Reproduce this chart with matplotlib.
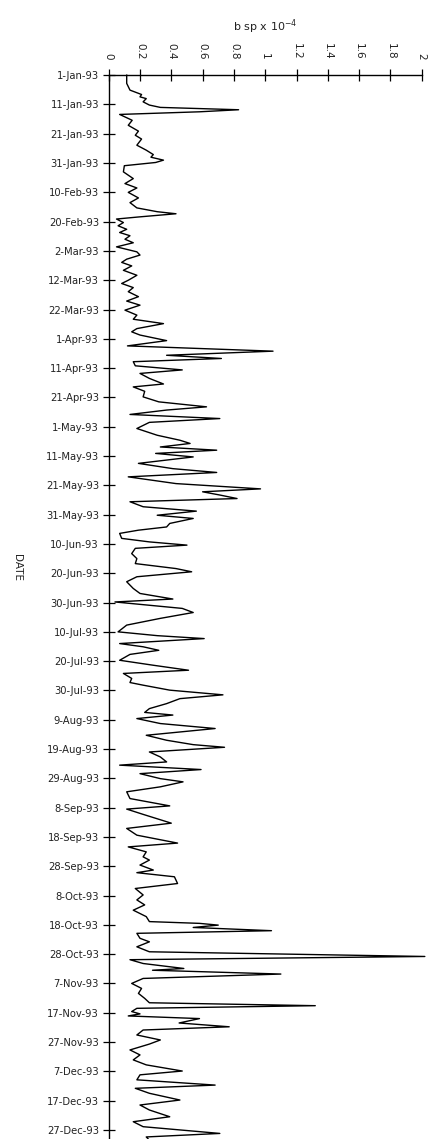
import matplotlib
matplotlib.use('Agg')
import matplotlib.pyplot as plt
import pandas as pd

days = [0, 2.8, 5.1, 6.6, 7.4, 8.0, 9.1, 10.2, 11.0, 11.8, 12.5, 13.4, 15.4, 17.1, 19.1,
        20.5, 21.8, 23.9, 25.6, 27.1, 28.0, 29.0, 29.8, 30.9, 33.0, 35.3, 37.0, 38.5,
        40.0, 41.9, 43.5, 45.3, 46.6, 47.3, 48.4, 49.1, 50.3, 51.4, 52.6, 53.7, 54.8,
        56.0, 57.2, 58.6, 60.3, 61.4, 62.8, 63.9, 65.1, 66.6, 68.3, 70.0, 71.1, 72.5,
        73.9, 75.6, 77.1, 78.5, 80.2, 81.9, 83.3, 84.8, 86.5, 87.6, 88.7, 90.6, 92.4,
        94.2, 95.6, 96.7, 97.8, 99.2, 100.6, 101.8, 103.5, 105.4, 106.4, 107.9, 109.8,
        111.5, 113.2, 114.3, 115.8, 117.2, 118.5, 120.6, 122.9, 124.6, 125.7, 126.9,
        128.0, 129.1, 130.3, 132.5, 134.3, 135.6, 137.1, 139.4, 141.2, 142.2, 143.3,
        144.5, 145.6, 147.3, 148.8, 150.2, 151.3, 153.0, 154.2, 155.3, 156.4, 158.1,
        159.3, 160.4, 161.5, 163.3, 165.0, 166.7, 168.4, 169.5, 171.2, 172.9, 175.2,
        176.9, 178.8, 179.8, 182.0, 183.4, 185.4, 187.7, 190.0, 191.3, 192.3, 194.0,
        195.1, 196.3, 197.7, 199.7, 201.4, 203.1, 204.2, 205.9, 207.3, 208.2, 209.9,
        211.5, 212.8, 214.5, 216.2, 217.5, 218.4, 219.6, 221.3, 223.0, 225.3, 227.0,
        228.5, 229.4, 231.0, 232.7, 234.4, 235.5, 237.0, 238.4, 240.1, 241.2, 242.9,
        244.6, 246.9, 249.4, 250.5, 252.3, 255.3, 257.1, 259.4, 262.1, 263.4, 265.1,
        266.8, 267.9, 269.6, 271.3, 272.2, 273.6, 275.9, 277.6, 279.8, 281.5, 283.2,
        285.0, 287.2, 288.9, 289.5, 290.1, 290.9, 292.0, 292.9, 294.6, 295.8, 297.5,
        299.2, 300.8, 301.9, 303.2, 304.9, 305.5, 306.8, 308.3, 310.0, 311.7, 313.4,
        315.1, 316.6, 317.6, 318.5, 319.6, 320.4, 321.1, 322.0, 323.5, 324.8, 325.9,
        327.6, 329.3, 330.7, 332.7, 334.4, 336.1, 337.8, 339.9, 341.2, 342.9, 344.7,
        345.8, 347.5, 349.8, 351.5, 353.2, 355.5, 357.2, 358.9, 361.2, 362.4, 363.5]

bsp = [0.115, 0.115, 0.136, 0.21, 0.20, 0.24, 0.22, 0.26, 0.33, 0.83, 0.58, 0.07, 0.15,
       0.125, 0.19, 0.17, 0.21, 0.18, 0.24, 0.285, 0.27, 0.35, 0.30, 0.10, 0.094, 0.157,
       0.104, 0.18, 0.125, 0.19, 0.136, 0.18, 0.31, 0.43, 0.19, 0.05, 0.094, 0.06, 0.115,
       0.07, 0.136, 0.104, 0.157, 0.05, 0.18, 0.20, 0.115, 0.083, 0.147, 0.094, 0.18,
       0.125, 0.083, 0.157, 0.125, 0.19, 0.115, 0.20, 0.104, 0.18, 0.157, 0.35, 0.18,
       0.147, 0.20, 0.37, 0.12, 1.05, 0.37, 0.72, 0.157, 0.17, 0.47, 0.20, 0.26, 0.35,
       0.157, 0.23, 0.22, 0.32, 0.625, 0.37, 0.136, 0.71, 0.26, 0.18, 0.31, 0.455, 0.52,
       0.33, 0.69, 0.30, 0.54, 0.19, 0.41, 0.69, 0.125, 0.43, 0.97, 0.60, 0.71, 0.82,
       0.136, 0.22, 0.56, 0.31, 0.54, 0.39, 0.37, 0.19, 0.07, 0.083, 0.26, 0.50, 0.17,
       0.147, 0.18, 0.17, 0.43, 0.53, 0.18, 0.115, 0.157, 0.20, 0.41, 0.04, 0.47, 0.54,
       0.33, 0.115, 0.06, 0.31, 0.61, 0.07, 0.22, 0.32, 0.136, 0.07, 0.285, 0.51, 0.094,
       0.147, 0.136, 0.22, 0.39, 0.73, 0.455, 0.37, 0.26, 0.23, 0.41, 0.18, 0.33, 0.68,
       0.24, 0.37, 0.54, 0.74, 0.26, 0.33, 0.37, 0.07, 0.59, 0.20, 0.33, 0.475, 0.33,
       0.115, 0.136, 0.39, 0.115, 0.22, 0.40, 0.115, 0.18, 0.44, 0.125, 0.24, 0.22, 0.26,
       0.20, 0.285, 0.18, 0.42, 0.44, 0.17, 0.22, 0.18, 0.23, 0.157, 0.24, 0.26, 0.58,
       0.70, 0.54, 1.04, 0.18, 0.20, 0.26, 0.18, 0.26, 2.02, 0.136, 0.22, 0.48, 0.28,
       1.10, 0.22, 0.147, 0.21, 0.19, 0.23, 0.26, 1.32, 0.18, 0.147, 0.20, 0.125, 0.58,
       0.45, 0.77, 0.22, 0.18, 0.33, 0.26, 0.136, 0.20, 0.157, 0.24, 0.47, 0.20, 0.18,
       0.68, 0.17, 0.26, 0.455, 0.20, 0.26, 0.39, 0.157, 0.22, 0.71, 0.24, 0.26]

# tick marks every 10 days from 1-Jan-93
tick_days = list(range(0, 361, 10))
tick_dates = pd.date_range('1993-01-01', periods=len(tick_days), freq='10D')
tick_labels = [f"{d.day}-{d.strftime('%b-%y')}" for d in tick_dates]
x_ticks = [0, 0.2, 0.4, 0.6, 0.8, 1, 1.2, 1.4, 1.6, 1.8, 2]
x_tick_labels = ['0', '0.2', '0.4', '0.6', '0.8', '1', '1.2', '1.4', '1.6', '1.8', '2']

plt.rcParams['font.family'] = ['DejaVu Sans']

fig = plt.figure(figsize=(4.39, 11.39), dpi=100)
ax = fig.add_axes([0.2476, 0.0, 0.7130, 0.934])

ax.plot(bsp, days, color='black', lw=1.0, clip_on=False)

ax.set_xlim(0, 2)
ax.set_ylim(363.1, 0)

ax.spines['right'].set_visible(False)
ax.spines['bottom'].set_visible(False)
ax.spines['left'].set_linewidth(1.0)
ax.spines['top'].set_linewidth(1.0)

ax.xaxis.tick_top()
ax.set_xticks(x_ticks)
ax.set_xticklabels(x_tick_labels, rotation=270, fontsize=7.5, color='#222222')
ax.set_yticks(tick_days)
ax.set_yticklabels(tick_labels, fontsize=7.2, color='#222222')
ax.tick_params(axis='both', direction='inout', length=8, width=0.9, pad=3)
ax.tick_params(axis='x', pad=7)

ax.xaxis.set_label_position('top')
ax.set_xlabel(r'b sp x 10$^{-4}$', fontsize=8, labelpad=9, color='#222222')
ax.set_ylabel('DATE', fontsize=7.5, rotation=270, color='#222222')
ax.yaxis.set_label_coords(-0.31, 0.5376)

fig.savefig('out.png', dpi=100)
